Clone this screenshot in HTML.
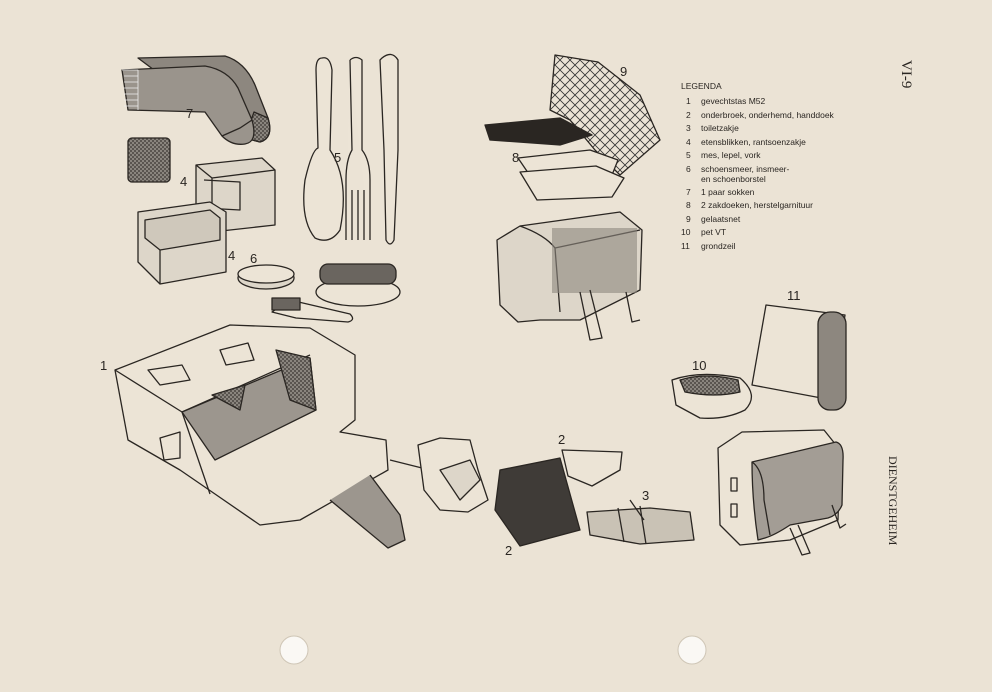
<!DOCTYPE html>
<html><head><meta charset="utf-8"><style>
html,body{margin:0;padding:0;background:#ebe3d5;}
svg{display:block}
text{font-family:"Liberation Sans",sans-serif;fill:#2a2622}
</style></head><body>
<svg width="992" height="692" viewBox="0 0 992 692" xmlns="http://www.w3.org/2000/svg">
<defs>
<pattern id="chk" width="4" height="4" patternUnits="userSpaceOnUse"><rect width="4" height="4" fill="#8a857e"/><rect width="2" height="2" fill="#5a5550"/><rect x="2" y="2" width="2" height="2" fill="#5a5550"/></pattern>
<pattern id="net" width="10" height="10" patternUnits="userSpaceOnUse"><path d="M0 0L10 10M10 0L0 10" stroke="#333" stroke-width="0.8"/></pattern>
</defs>
<rect width="992" height="692" fill="#ebe3d5"/>
<g fill="none" stroke="#2a2622" stroke-width="1.3" stroke-linejoin="round">
<!-- socks 7 -->
<path d="M138 58 L225 56 Q245 62 255 85 L268 118 Q274 138 260 142 L245 138 Z" fill="#8d877f"/>
<path d="M254 112 L268 118 Q274 138 260 142 L245 138 Z" fill="url(#chk)"/>
<path d="M122 70 L205 66 Q228 70 238 88 L252 120 Q258 142 245 144 Q232 146 222 136 L205 112 L128 110 Z" fill="#9a948c"/>
<path d="M122 70 L138 70 L138 110 M124 76 L138 76 M124 82 L138 82 M124 88 L138 88 M124 94 L138 94 M124 100 L138 100 M124 106 L138 106" stroke-width="0.8" stroke="#eee"/>
<path d="M222 136 L240 128 L252 120"/>
<!-- small bag 4 -->
<rect x="128" y="138" width="42" height="44" rx="4" fill="url(#chk)"/>
<!-- tin upper 4 -->
<path d="M196 165 L262 158 L275 170 L275 225 L212 232 L196 220 Z" fill="#ddd6c9"/>
<path d="M196 165 L212 178 L275 170 M212 178 L212 232"/>
<path d="M204 180 L240 182 L240 210 L204 208"/>
<!-- tin lower -->
<path d="M138 212 L210 202 L226 212 L226 272 L160 284 L138 262 Z" fill="#ddd6c9"/>
<path d="M145 220 L210 210 L220 218 L220 240 L160 250 L145 238 Z" fill="#cfc8bb"/>
<path d="M160 250 L160 284"/>
<!-- spoon fork knife 5 -->
<path d="M322 58 Q330 56 332 70 L330 150 Q350 180 340 230 Q330 245 315 238 Q300 220 305 180 Q312 150 318 148 L316 70 Q316 58 322 58Z" fill="#ece4d6"/>
<path d="M350 60 Q356 55 362 60 L362 150 Q370 160 370 180 L370 240 M346 240 L346 180 Q346 160 352 150 L350 60" fill="#ece4d6"/>
<path d="M352 190 L352 240 M358 190 L358 240 M364 190 L364 240"/>
<path d="M382 58 Q392 50 398 60 L398 150 L394 240 Q390 248 386 240 L384 150 L380 60Z" fill="#ece4d6"/>
<!-- tins 6 + brushes -->
<ellipse cx="266" cy="278" rx="28" ry="11" fill="#ddd6c9"/>
<ellipse cx="266" cy="274" rx="28" ry="9" fill="#ece4d6"/>
<ellipse cx="358" cy="292" rx="42" ry="14" fill="#ece4d6"/>
<rect x="320" y="264" width="76" height="20" rx="8" fill="#6a655f"/>
<path d="M272 312 L290 300 L350 314 Q356 320 348 322 L296 318 Z" fill="#ece4d6"/>
<rect x="272" y="298" width="28" height="12" fill="#6a655f"/>
<!-- net 9 and 8 -->
<path d="M555 55 L598 62 L640 95 L660 140 L620 175 L595 150 L570 120 L550 110 Z" fill="url(#net)"/>
<path d="M485 125 L560 118 L592 135 L560 145 L490 140 Z" fill="#2a2622"/>
<path d="M518 158 L590 150 L618 160 L610 180 L535 183 Z" fill="#ece4d6"/>
<path d="M520 172 L596 166 L624 178 L612 197 L537 200 Z" fill="#ece4d6"/>
<!-- bag small top -->
<path d="M497 240 L520 226 L620 212 L642 230 L640 290 L580 320 L540 320 L518 322 L500 305 Z" fill="#ddd6c9"/>
<path d="M520 226 Q545 235 555 248 L560 312 M555 248 L640 230" />
<rect x="552" y="228" width="85" height="65" fill="#8d877f" stroke="none" opacity="0.6"/>
<path d="M580 292 L590 340 L602 338 L590 290 M626 292 L632 322 L640 320"/>
<!-- big bag 1 -->
<path d="M115 370 L230 325 L310 328 L355 355 L355 420 L340 432 L386 440 L388 470 L300 520 L260 525 L215 494 L180 470 L128 440 Z" fill="#ece4d6"/>
<path d="M115 370 L182 412 L310 355 M182 412 L210 494"/>
<path d="M182 412 L310 358 L316 410 L215 460 Z" fill="#9c968e"/>
<path d="M212 395 L245 385 L240 410 Z M276 350 L310 358 L316 410 L290 400 Z" fill="url(#chk)"/>
<path d="M148 370 L182 365 L190 380 L160 385 Z M220 350 L248 343 L254 360 L226 365 Z" fill="#ece4d6"/>
<path d="M160 438 L180 432 L180 458 L164 460 Z"/>
<path d="M370 475 L400 515 L405 540 L388 548 L330 500" fill="#9c968e"/>
<path d="M390 460 L430 470" />
<!-- undershirt 2 -->
<path d="M418 445 L440 438 L470 440 L478 470 L488 500 L468 512 L440 510 L424 490 Z" fill="#ece4d6"/>
<path d="M440 470 L470 460 L480 480 L460 500 Z" fill="#ddd6c9"/>
<path d="M500 470 L560 458 L580 530 L520 546 L495 510 Z" fill="#3f3b37"/>
<path d="M562 450 L622 452 L620 470 L592 486 L568 476 Z" fill="#ece4d6"/>
<!-- toiletbag 3 -->
<path d="M587 512 L650 508 L690 512 L694 540 L640 544 L590 535 Z" fill="#c9c2b5"/>
<path d="M618 508 L624 542 M640 506 L646 544 M630 500 L644 520"/>
<!-- pet 10 -->
<path d="M672 380 Q700 370 740 378 Q760 395 745 410 Q725 420 700 418 L676 405 Z" fill="#ece4d6"/>
<path d="M680 380 Q705 372 738 380 L740 392 Q715 398 685 392 Z" fill="url(#chk)"/>
<!-- grondzeil 11 -->
<path d="M766 305 L845 315 L832 400 L752 385 Z" fill="#ece4d6"/>
<rect x="818" y="312" width="28" height="98" rx="12" fill="#8d877f"/>
<!-- right bag -->
<path d="M718 448 L742 432 L824 430 L840 450 L838 520 L790 540 L740 545 L720 525 Z" fill="#ece4d6"/>
<path d="M752 462 L836 442 Q844 444 843 460 L842 505 Q838 515 828 518 L790 525 Q775 535 765 538 L758 540 Q752 500 752 462 Z" fill="#a39d95"/>
<path d="M752 462 Q764 470 764 500 L770 535" fill="none"/>
<rect x="731" y="478" width="6" height="13"/><rect x="731" y="504" width="6" height="13"/>
<path d="M790 528 L802 555 L810 553 L798 525 M832 505 L840 528 L846 524"/>
</g>
<!-- holes -->
<circle cx="294" cy="650" r="14" fill="#faf8f4" stroke="#cfc6b6"/>
<circle cx="692" cy="650" r="14" fill="#faf8f4" stroke="#cfc6b6"/>
<!-- labels -->
<g font-size="13">
<text x="186" y="118">7</text>
<text x="180" y="186">4</text>
<text x="228" y="260">4</text>
<text x="250" y="263">6</text>
<text x="334" y="162">5</text>
<text x="620" y="76">9</text>
<text x="512" y="162">8</text>
<text x="100" y="370">1</text>
<text x="558" y="444">2</text>
<text x="505" y="555">2</text>
<text x="642" y="500">3</text>
<text x="692" y="370">10</text>
<text x="787" y="300">11</text>
</g>
<g font-size="8.5">
<text x="681" y="89">LEGENDA</text>
<text x="686" y="104">1</text><text x="701" y="104">gevechtstas    M52</text>
<text x="686" y="118">2</text><text x="701" y="118">onderbroek, onderhemd, handdoek</text>
<text x="686" y="131">3</text><text x="701" y="131">toiletzakje</text>
<text x="686" y="145">4</text><text x="701" y="145">etensblikken, rantsoenzakje</text>
<text x="686" y="158">5</text><text x="701" y="158">mes, lepel, vork</text>
<text x="686" y="172">6</text><text x="701" y="172">schoensmeer, insmeer-</text>
<text x="701" y="182">en schoenborstel</text>
<text x="686" y="195">7</text><text x="701" y="195">1 paar sokken</text>
<text x="686" y="208">8</text><text x="701" y="208">2 zakdoeken, herstelgarnituur</text>
<text x="686" y="222">9</text><text x="701" y="222">gelaatsnet</text>
<text x="681" y="235">10</text><text x="701" y="235">pet VT</text>
<text x="681" y="249">11</text><text x="701" y="249">grondzeil</text>
</g>
<text transform="translate(902,60) rotate(90)" font-size="15" style="font-family:'Liberation Serif',serif">VI-9</text>
<text transform="translate(889,456) rotate(90)" font-size="12" style="font-family:'Liberation Serif',serif">DIENSTGEHEIM</text>
</svg>
</body></html>
